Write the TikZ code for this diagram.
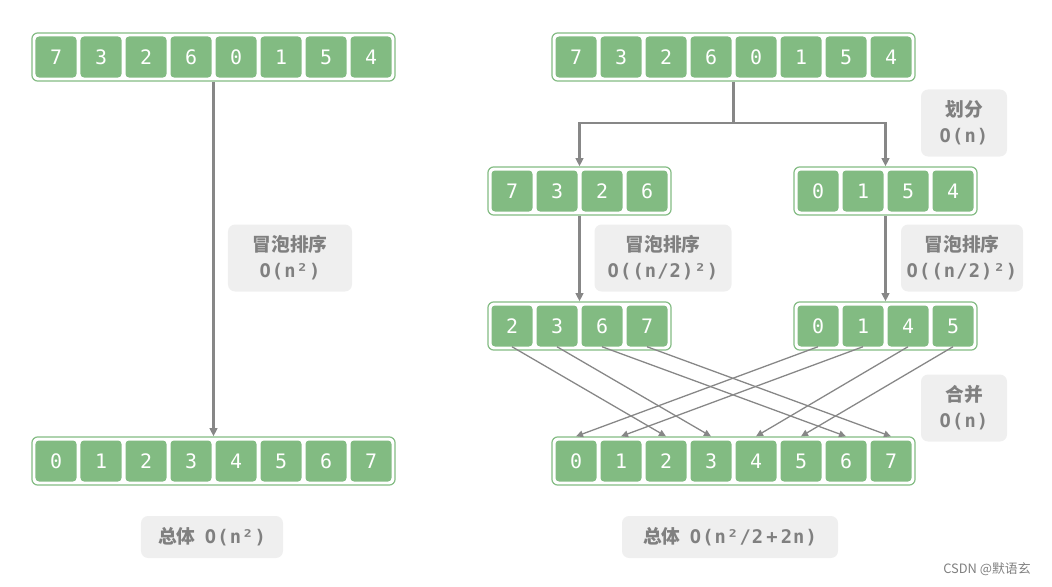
\documentclass[tikz,border=0pt]{standalone}
\usepackage{fontspec}
\usetikzlibrary{arrows.meta,fit,positioning}
\newfontfamily\cjk{Noto Sans CJK SC}
\newfontfamily\mono[LetterSpace=6]{DejaVu Sans Mono}
\newfontfamily\digits{DejaVu Sans Mono}
\definecolor{cellgreen}{HTML}{82BB82}
\definecolor{labelgray}{HTML}{EFEFEF}
\definecolor{textgray}{HTML}{808080}
\definecolor{arrowgray}{HTML}{878787}

\tikzset{
  cell/.style = {rectangle, rounded corners=3pt, fill=cellgreen, text=white,
    minimum width=1.23cm, minimum height=1.23cm, inner sep=0pt,
    font=\digits\fontsize{17}{20}\selectfont},
  arraybox/.style = {draw=cellgreen, line width=1pt, rounded corners=5pt, inner sep=0.1cm},
  costlabel/.style = {fill=labelgray, rounded corners=6pt, text=textgray, align=center,
    minimum height=2.01cm, inner sep=0pt, font=\bfseries\fontsize{16}{22}\selectfont},
  totallabel/.style = {costlabel, minimum height=1.26cm},
  flow/.style = {draw=arrowgray, line width=2pt, -{Triangle[length=7pt, width=6.5pt]}},
  merge/.style = {draw=arrowgray, line width=1.1pt, -{Triangle[length=6pt, width=5.5pt]}}
}

% one row of cells: name, x of first cell, y, values
\newcommand\cellrow[4]{%
  \foreach \v [count=\i] in {#4}
    \node[cell] (#1-\i) at ({#2+45*(\i-1)},#3) {\v};
}

\begin{document}
\begin{tikzpicture}[x=0.03cm, y=-0.03cm]
    \useasboundingbox (0,0) rectangle (1052,587);

    % left: one bubble sort
    \cellrow{tl}{56}{57}{7,3,2,6,0,1,5,4}
    \node[arraybox, fit=(tl-1)(tl-8)] (tl) {};
    \cellrow{bl}{56}{461}{0,1,2,3,4,5,6,7}
    \node[arraybox, fit=(bl-1)(bl-8)] (bl) {};

    % right: split, sort halves, merge
    \cellrow{tr}{576}{57}{7,3,2,6,0,1,5,4}
    \node[arraybox, fit=(tr-1)(tr-8)] (tr) {};
    \cellrow{sa}{512}{191}{7,3,2,6}
    \node[arraybox, fit=(sa-1)(sa-4)] (sa) {};
    \cellrow{sb}{818}{191}{0,1,5,4}
    \node[arraybox, fit=(sb-1)(sb-4)] (sb) {};
    \cellrow{oa}{512}{326}{2,3,6,7}
    \node[arraybox, fit=(oa-1)(oa-4)] (oa) {};
    \cellrow{ob}{818}{326}{0,1,4,5}
    \node[arraybox, fit=(ob-1)(ob-4)] (ob) {};
    \cellrow{br}{576}{461}{0,1,2,3,4,5,6,7}
    \node[arraybox, fit=(br-1)(br-8)] (br) {};

    % labels
    \node[costlabel, minimum width=3.72cm] (bubble) at (290,258)
        {\cjk 冒泡排序\\\mono O(n²)};
    \node[costlabel, minimum width=2.58cm] (split) at (964,123)
        {\cjk 划分\\\mono O(n)};
    \node[costlabel, minimum width=4.11cm] (bubblea) at (663,258)
        {\cjk 冒泡排序\\\mono O((n/2)²)};
    \node[costlabel, minimum width=3.66cm] (bubbleb) at (962,258)
        {\cjk 冒泡排序\\\mono O((n/2)²)};
    \node[costlabel, minimum width=2.58cm] (mergecost) at (964,408)
        {\cjk 合并\\\mono O(n)};
    \node[totallabel, minimum width=4.26cm] (totall) at (212,537)
        {{\cjk 总体}\enspace{\mono O(n²)}};
    \node[totallabel, minimum width=6.48cm] (totalr) at (730,537)
        {{\cjk 总体}\enspace{\mono O(n²/2\,+\,2n)}};

    % connectors
    \draw[flow] (tl.south) -- (bl.north);
    \coordinate (fork) at (tr.south |- 0,123);
    \draw[draw=arrowgray, line width=2pt] (tr.south) -- (fork);
    \draw[flow] (fork) -| (sa.north);
    \draw[flow] (fork) -| (sb.north);
    \draw[flow] (sa.south) -- (oa.north);
    \draw[flow] (sb.south) -- (ob.north);

    \draw[merge] (oa-1.south) -- (br-3 |- br.north);
    \draw[merge] (oa-2.south) -- (br-4 |- br.north);
    \draw[merge] (oa-3.south) -- (br-7 |- br.north);
    \draw[merge] (oa-4.south) -- (br-8 |- br.north);
    \draw[merge] (ob-1.south) -- (br-1 |- br.north);
    \draw[merge] (ob-2.south) -- (br-2 |- br.north);
    \draw[merge] (ob-3.south) -- (br-5 |- br.north);
    \draw[merge] (ob-4.south) -- (br-6 |- br.north);

    \node[text=textgray, font=\cjk\fontsize{11}{13}\selectfont] (mark) at (987,569) {CSDN @默语玄};
\end{tikzpicture}
\end{document}
